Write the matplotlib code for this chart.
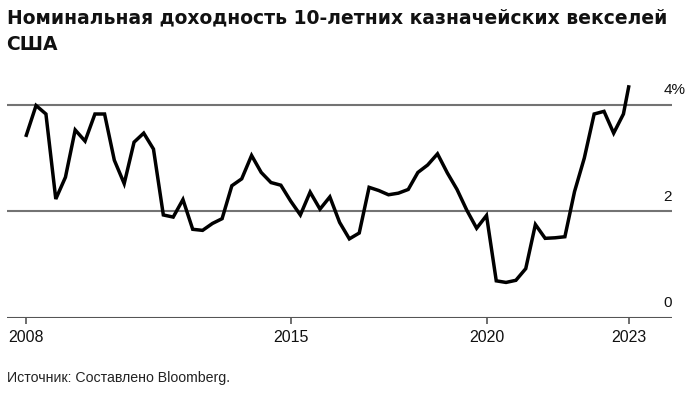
import matplotlib
matplotlib.use("Agg")
import matplotlib.pyplot as plt
import matplotlib.dates as mdates
import pandas as pd
import numpy as np

# ---- data ----
quarter_end_start = "2008-03-31"
last_date = "2023-08-18"
yields = [3.43, 3.99, 3.83, 2.23, 2.64, 3.53, 3.32, 3.83, 3.83, 2.96,
          2.52, 3.30, 3.47, 3.17, 1.93, 1.89, 2.22, 1.66, 1.64, 1.77,
          1.86, 2.48, 2.61, 3.05, 2.73, 2.54, 2.49, 2.19, 1.93, 2.36,
          2.04, 2.27, 1.79, 1.48, 1.59, 2.45, 2.39, 2.31, 2.34, 2.41,
          2.73, 2.87, 3.08, 2.72, 2.41, 2.02, 1.68, 1.92, 0.69, 0.66,
          0.70, 0.92, 1.75, 1.49, 1.50, 1.52, 2.37, 3.00, 3.83, 3.88,
          3.47, 3.83, 4.34]
tick_dates = ["2008-03-31", "2014-12-31", "2019-12-31", last_date]
tick_labels = ["2008", "2015", "2020", "2023"]
y_levels = [0, 2, 4]
y_labels = ["0", "2", "4%"]
title_lines = ["Номинальная доходность 10-летних казначейских векселей", "США"]
source = "Источник: Составлено Bloomberg."

dates = list(pd.date_range(quarter_end_start, periods=len(yields) - 1, freq="QE"))
dates.append(pd.Timestamp(last_date))

plt.rcParams['font.family'] = ['Liberation Sans', 'DejaVu Sans']

W, H = 696, 394
fig = plt.figure(figsize=(W / 100, H / 100), dpi=100)
ax_left, ax_right, ax_bottom, ax_top = 7, 672, 317.5, 80
ax = fig.add_axes([ax_left / W, 1 - ax_bottom / H, (ax_right - ax_left) / W, (ax_bottom - ax_top) / H])

ax.plot(dates, yields, color="black", lw=2.5, solid_joinstyle="miter", zorder=3)

x0 = mdates.date2num(pd.Timestamp(quarter_end_start)) - 180
x1 = mdates.date2num(pd.Timestamp(last_date)) + 404
ax.set_xlim(x0, x1)
ax.set_ylim(0, 4.47)

for s in ax.spines.values():
    s.set_visible(False)
ax.set_yticks([])

for lv, lb in zip(y_levels, y_labels):
    if lv == 0:
        ax.axhline(lv, color="#555555", lw=1.5, zorder=2)
    else:
        ax.axhline(lv, color="#737373", lw=1.5, zorder=1)
    ax.annotate(lb, xy=(1, lv), xycoords=("axes fraction", "data"),
                xytext=(-8.5, 7.5), textcoords="offset pixels",
                ha="left", va="bottom", fontsize=11, color="#111111")

ax.set_xticks([mdates.date2num(pd.Timestamp(d)) for d in tick_dates])
ax.set_xticklabels(tick_labels)
ax.tick_params(axis="x", length=4.3, width=1.2, color="#555555",
               labelsize=11.5, labelcolor="#111111", pad=4.5)

fig.text(6.5 / W, 1 - 23.5 / H, title_lines[0], ha="left", va="baseline",
         fontsize=13.5, fontweight="bold", color="#111111",
         family=["DejaVu Sans"])
fig.text(6.5 / W, 1 - 50 / H, title_lines[1], ha="left", va="baseline",
         fontsize=13.5, fontweight="bold", color="#111111",
         family=["DejaVu Sans"])
fig.text(7 / W, 1 - 381.7 / H, source, ha="left", va="baseline", fontsize=10.2,
         color="#222222")

fig.savefig("out.png", dpi=100)
